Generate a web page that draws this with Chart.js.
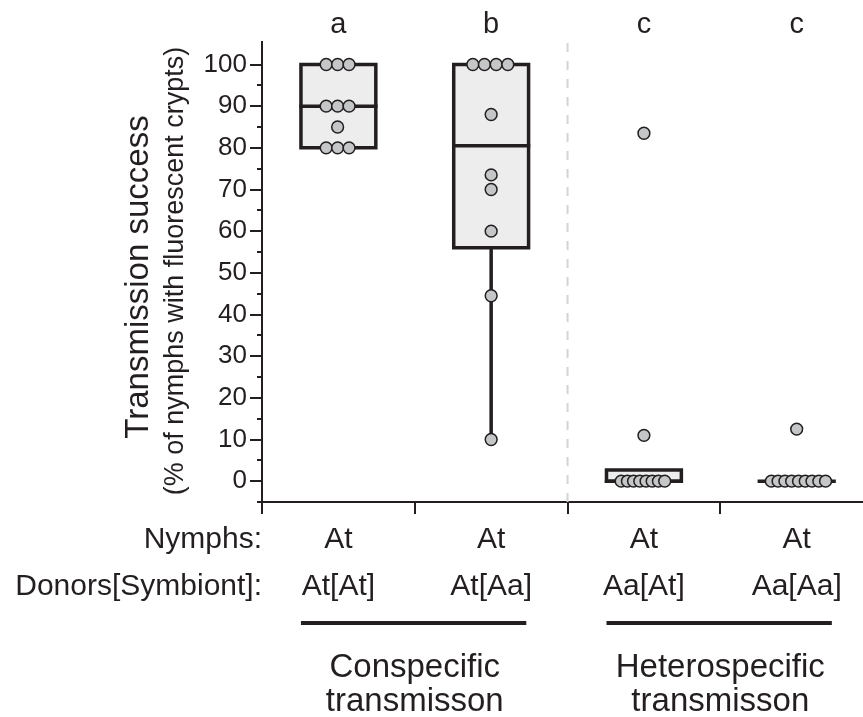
<!DOCTYPE html>
<html>
<head>
<meta charset="utf-8">
<script src="https://cdn.jsdelivr.net/npm/chart.js"></script>
<style>
  body { margin: 0; background: #fff; }
  canvas { display: block; }
</style>
</head>
<body>
<canvas id="chart" width="863" height="717"></canvas>
<script>
/* datos */
const donantes = ["At[At]", "At[Aa]", "Aa[At]", "Aa[Aa]"]
const ninfas = ["At", "At", "At", "At"]
const letras = ["a", "b", "c", "c"]
const posiciones = [1, 2, 3, 4]
const tipos = [["Conspecific", "transmisson"], ["Heterospecific", "transmisson"]]
const tiposGrupos = [[0, 1], [2, 3]]

const valores1 = [100, 100, 100, 90, 90, 90, 85, 80, 80, 80]
const jitter1 = [-0.08, -0.005, 0.07, -0.08, -0.005, 0.07, -0.005, -0.08, -0.005, 0.07]
const valores2 = [100, 100, 100, 100, 88, 73.5, 70, 60, 44.5, 10]
const jitter2 = [-0.12, -0.044, 0.033, 0.109, 0, 0, 0, 0, 0, 0]
const valores3 = [83.5, 11, 0, 0, 0, 0, 0, 0, 0, 0]
const jitter3 = [0, 0, -0.149, -0.108, -0.068, -0.027, 0.014, 0.054, 0.095, 0.136]
const valores4 = [12.5, 0, 0, 0, 0, 0, 0, 0, 0, 0]
const jitter4 = [0, -0.166, -0.122, -0.077, -0.033, 0.012, 0.056, 0.1, 0.145, 0.189]

const q1 = [80, 56, 0, 0]
const mediana = [90, 80.5, 0, 0]
const q3 = [100, 100, 2.7, 0]
const bigoteMin = [80, 10, 0, 0]
const bigoteMax = [100, 100, 2.7, 0]

const yTicks = [-5, 0, 5, 10, 15, 20, 25, 30, 35, 40, 45, 50, 55, 60, 65, 70, 75, 80, 85, 90, 95, 100]
const xTicks = [0.5, 1.5, 2.5, 3.5]

const negro = '#231f20'
const fuente = "'Liberation Sans', Arial, sans-serif"
const medioCaja = 0.245
const medioMediana = 0.256

const valores = [valores1, valores2, valores3, valores4]
const jitters = [jitter1, jitter2, jitter3, jitter4]

const puntos = []
valores.forEach((serie, g) => {
    serie.forEach((v, i) => puntos.push({ x: posiciones[g] + jitters[g][i], y: v }))
})

const linea = (data, extra) => Object.assign({
    type: 'line', data: data, borderColor: negro, borderWidth: 3.5,
    pointRadius: 0, fill: false, order: 1, borderJoinStyle: 'miter', borderCapStyle: 'butt'
}, extra || {})

const datasets = []

/* linea punteada entre grupos */
datasets.push(linea([{ x: 2.5, y: -5 }, { x: 2.5, y: 105.4 }], { borderColor: '#d4d4d4', borderWidth: 2, borderDash: [9, 9], order: 5 }))

/* relleno de las cajas */
datasets.push({
    type: 'bar',
    data: posiciones.map((p, i) => ({ x: p, y: [q1[i], q3[i]] })),
    backgroundColor: '#ededed',
    borderWidth: 0,
    barThickness: 75,
    order: 4
})

posiciones.forEach((p, i) => {
    if (q3[i] > q1[i]) {
        datasets.push(linea([
            { x: p - medioCaja, y: q1[i] }, { x: p + medioCaja, y: q1[i] },
            { x: p + medioCaja, y: q3[i] }, { x: p - medioCaja, y: q3[i] },
            { x: p - medioCaja, y: q1[i] }, { x: p + medioCaja, y: q1[i] }
        ]))
    }
    datasets.push(linea([{ x: p - medioMediana, y: mediana[i] }, { x: p + medioMediana, y: mediana[i] }]))
    if (bigoteMin[i] < q1[i]) datasets.push(linea([{ x: p, y: q1[i] }, { x: p, y: bigoteMin[i] }]))
    if (bigoteMax[i] > q3[i]) datasets.push(linea([{ x: p, y: q3[i] }, { x: p, y: bigoteMax[i] }]))
})

datasets.push({
    type: 'scatter',
    data: puntos,
    backgroundColor: '#c5c6c8',
    borderColor: negro,
    borderWidth: 1.5,
    pointRadius: 5.9,
    order: 0
})

/* textos fuera del area del grafico */
const textos = {
    id: 'textos',
    afterDraw(chart) {
        const { ctx, scales: { x, y } } = chart
        ctx.save()
        ctx.fillStyle = negro
        ctx.strokeStyle = negro

        /* ticks menores del eje y */
        ctx.lineWidth = 2
        yTicks.forEach((v) => {
            if (v % 10 !== 0) {
                const py = Math.round(y.getPixelForValue(v))
                ctx.beginPath()
                ctx.moveTo(x.left - 5, py)
                ctx.lineTo(x.left, py)
                ctx.stroke()
            }
        })

        ctx.textAlign = 'center'
        ctx.textBaseline = 'alphabetic'
        ctx.font = `29px ${fuente}`
        letras.forEach((l, i) => ctx.fillText(l, x.getPixelForValue(posiciones[i]), 33))

        ctx.font = `30px ${fuente}`
        ninfas.forEach((l, i) => ctx.fillText(l, x.getPixelForValue(posiciones[i]), 548))
        donantes.forEach((l, i) => ctx.fillText(l, x.getPixelForValue(posiciones[i]), 595))
        ctx.textAlign = 'right'
        ctx.fillText('Nymphs:', x.left, 548)
        ctx.fillText('Donors[Symbiont]:', x.left, 595)

        /* lineas y nombres de los tipos de transmision */
        ctx.textAlign = 'center'
        ctx.font = `33px ${fuente}`
        ctx.lineWidth = 4
        tiposGrupos.forEach((g, k) => {
            const x0 = x.getPixelForValue(posiciones[g[0]] - 0.245)
            const x1 = x.getPixelForValue(posiciones[g[1]] + 0.23)
            ctx.beginPath()
            ctx.moveTo(x0, 623)
            ctx.lineTo(x1, 623)
            ctx.stroke()
            const cx = x.getPixelForValue((posiciones[g[0]] + posiciones[g[1]]) / 2)
            ctx.fillText(tipos[k][0], cx, 677)
            ctx.fillText(tipos[k][1], cx, 711)
        })

        /* titulo del eje y */
        ctx.save()
        ctx.translate(148, 277)
        ctx.rotate(-Math.PI / 2)
        ctx.font = `33px ${fuente}`
        ctx.fillText('Transmission success', 0, 0)
        ctx.restore()
        ctx.save()
        ctx.translate(183, 271)
        ctx.rotate(-Math.PI / 2)
        ctx.font = `27px ${fuente}`
        ctx.fillText('(% of nymphs with fluorescent crypts)', 0, 0)
        ctx.restore()

        ctx.restore()
    }
}

new Chart(document.getElementById('chart'), {
    type: 'scatter',
    data: { datasets: datasets },
    options: {
        responsive: false,
        animation: false,
        events: [],
        layout: { autoPadding: false, padding: { top: 42, right: 0, bottom: 0, left: 0 } },
        plugins: { legend: { display: false }, tooltip: { enabled: false } },
        scales: {
            x: {
                type: 'linear',
                min: 0.5,
                max: 4.434,
                offset: false,
                afterBuildTicks: (scale) => { scale.ticks = xTicks.map((v) => ({ value: v })) },
                afterFit: (scale) => { scale.height = 215 },
                ticks: { callback: () => '', autoSkip: false, maxRotation: 0 },
                grid: { offset: false, drawOnChartArea: false, drawTicks: true, tickLength: 12, color: negro, lineWidth: 2, tickWidth: 2 },
                border: { color: negro, width: 2 }
            },
            y: {
                type: 'linear',
                min: -5,
                max: 105.4,
                offset: false,
                afterBuildTicks: (scale) => { scale.ticks = yTicks.map((v) => ({ value: v })) },
                afterFit: (scale) => { scale.width = 262 },
                ticks: {
                    autoSkip: false,
                    padding: 3,
                    color: negro,
                    font: { family: fuente, size: 26 },
                    callback: (v) => (v % 10 === 0 && v >= 0 ? String(v) : '')
                },
                grid: {
                    drawOnChartArea: false, drawTicks: true, tickLength: 12, lineWidth: 2, tickWidth: 2,
                    tickColor: (c) => (c.tick && c.tick.value % 10 === 0 ? negro : 'rgba(0,0,0,0)')
                },
                border: { color: negro, width: 2 }
            }
        }
    },
    plugins: [textos]
})
</script>
</body>
</html>
